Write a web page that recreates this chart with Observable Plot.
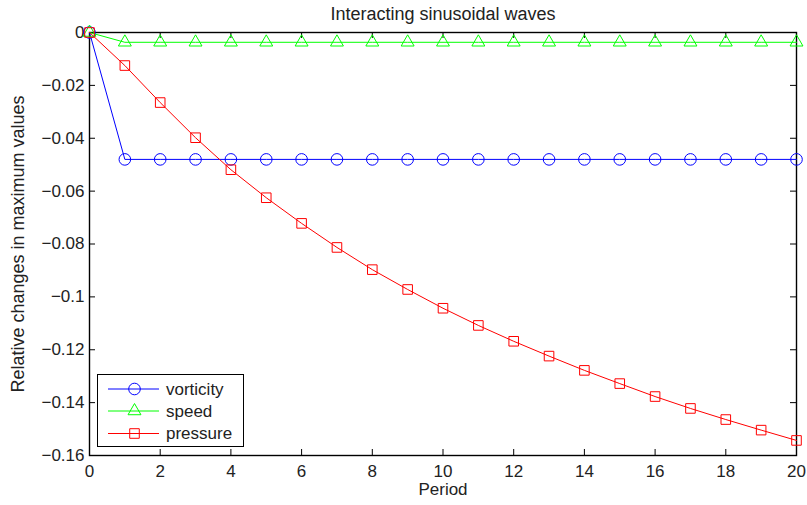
<!DOCTYPE html>
<html>
<head>
<meta charset="utf-8">
<script src="https://cdn.jsdelivr.net/npm/d3@7"></script>
<script src="https://cdn.jsdelivr.net/npm/@observablehq/plot@0.6"></script>
<style>
  html, body { margin: 0; padding: 0; background: #fff; }
  #wrap { position: relative; width: 807px; height: 505px; font-family: "Liberation Sans", Arial, Helvetica, sans-serif; }
  #legend { position: absolute; left: 97px; top: 374px; width: 147px; height: 73px; box-sizing: border-box; border: 1.3px solid #000; background: #fff; }
</style>
</head>
<body>
<div id="wrap"><div id="legend"></div></div>
<script>
const titleText = "Interacting sinusoidal waves";
const xLabel = "Period";
const yLabel = "Relative changes in maximum values";
const seriesNames = ["vorticity", "speed", "pressure"];
const seriesColors = ["#0000ff", "#00ff00", "#ff0000"];
const seriesSymbols = ["circle", "triangle", "square"];

const periods = [0, 1, 2, 3, 4, 5, 6, 7, 8, 9, 10, 11, 12, 13, 14, 15, 16, 17, 18, 19, 20];
const vorticity = [0, -0.048, -0.048, -0.048, -0.048, -0.048, -0.048, -0.048, -0.048, -0.048, -0.048,
  -0.048, -0.048, -0.048, -0.048, -0.048, -0.048, -0.048, -0.048, -0.048, -0.048];
const speed = [0, -0.0037, -0.0037, -0.0037, -0.0037, -0.0037, -0.0037, -0.0037, -0.0037, -0.0037, -0.0037,
  -0.0037, -0.0037, -0.0037, -0.0037, -0.0037, -0.0037, -0.0037, -0.0037, -0.0037, -0.0037];
const pressure = [0, -0.0125, -0.0265, -0.0398, -0.0519, -0.0625, -0.0722, -0.0813, -0.0897, -0.0972, -0.1043,
  -0.1108, -0.1168, -0.1224, -0.1278, -0.1328, -0.1377, -0.1422, -0.1464, -0.1504, -0.1543];

const xTicks = [0, 2, 4, 6, 8, 10, 12, 14, 16, 18, 20];
const yTicks = [0, -0.02, -0.04, -0.06, -0.08, -0.1, -0.12, -0.14, -0.16];
const yTickLabels = ["0", "\u22120.02", "\u22120.04", "\u22120.06", "\u22120.08", "\u22120.1", "\u22120.12", "\u22120.14", "\u22120.16"];

const seriesValues = [vorticity, speed, pressure];
const rows = [];
seriesNames.forEach((name, s) => {
  periods.forEach((p, i) => rows.push({series: name, period: p, value: seriesValues[s][i]}));
});
const symbolSize = {circle: 5.8, triangle: 4.8, square: 5.4};

const marks = [
  Plot.frame({stroke: "#000", strokeWidth: 1.4}),
  Plot.tickX(xTicks, {x: d => d, insetTop: 417, stroke: "#000"}),
  Plot.tickX(xTicks, {x: d => d, insetBottom: 417, stroke: "#000"}),
  Plot.tickY(yTicks, {y: d => d, insetRight: 701, stroke: "#000"}),
  Plot.tickY(yTicks, {y: d => d, insetLeft: 701, stroke: "#000"}),
  Plot.axisX({ticks: xTicks, tickSize: 0, tickPadding: 9, label: null, tickFormat: d => String(d), fill: "#222"}),
  Plot.axisY({ticks: yTicks, tickSize: 0, tickPadding: 5, label: null,
    tickFormat: d => yTickLabels[yTicks.indexOf(d)], fill: "#222"})
];
seriesNames.forEach((name, s) => {
  const data = rows.filter(r => r.series === name);
  marks.push(Plot.line(data, {x: "period", y: "value", stroke: seriesColors[s], strokeWidth: 1}));
});
seriesNames.forEach((name, s) => {
  const data = rows.filter(r => r.series === name);
  marks.push(Plot.dot(data, {x: "period", y: "value", symbol: seriesSymbols[s], r: symbolSize[seriesSymbols[s]],
    stroke: seriesColors[s], fill: "none", strokeWidth: 1}));
});
marks.push(Plot.text([titleText], {frameAnchor: "top", dy: -18, lineAnchor: "middle", fontSize: 18, fill: "#222"}));
marks.push(Plot.text([xLabel], {frameAnchor: "bottom", dy: 34, lineAnchor: "middle", fill: "#222"}));
marks.push(Plot.text([yLabel], {frameAnchor: "left", dx: -71, rotate: -90, textAnchor: "middle", lineAnchor: "middle", fontSize: 18, fill: "#222"}));

const chart = Plot.plot({
  width: 807,
  height: 505,
  marginLeft: 89,
  marginRight: 11,
  marginTop: 32,
  marginBottom: 50,
  x: {domain: [0, 20]},
  y: {domain: [-0.16, 0]},
  style: {fontFamily: "'Liberation Sans', Arial, Helvetica, sans-serif", fontSize: "17px", background: "#fff", overflow: "visible"},
  marks
});
const wrap = document.getElementById("wrap");
wrap.insertBefore(chart, wrap.firstChild);

// Legend
const lg = d3.select("#legend").append("svg").attr("width", 145).attr("height", 71)
  .style("display", "block").style("font-family", "'Liberation Sans', Arial, Helvetica, sans-serif");
const rowY = [14, 36, 58.5];
const symMap = {circle: d3.symbolCircle, triangle: d3.symbolTriangle, square: d3.symbolSquare};
seriesNames.forEach((name, s) => {
  const g = lg.append("g").attr("transform", `translate(0,${rowY[s]})`);
  g.append("line").attr("x1", 10).attr("x2", 61).attr("y1", 0).attr("y2", 0)
    .attr("stroke", seriesColors[s]).attr("stroke-width", 1);
  const r = symbolSize[seriesSymbols[s]];
  g.append("path").attr("transform", "translate(36.5,0)")
    .attr("d", d3.symbol(symMap[seriesSymbols[s]], Math.PI * r * r)())
    .attr("fill", "none").attr("stroke", seriesColors[s]);
  g.append("text").attr("x", 68).attr("dy", "0.35em").attr("font-size", 17).attr("fill", "#222").text(name);
});
</script>
</body>
</html>
